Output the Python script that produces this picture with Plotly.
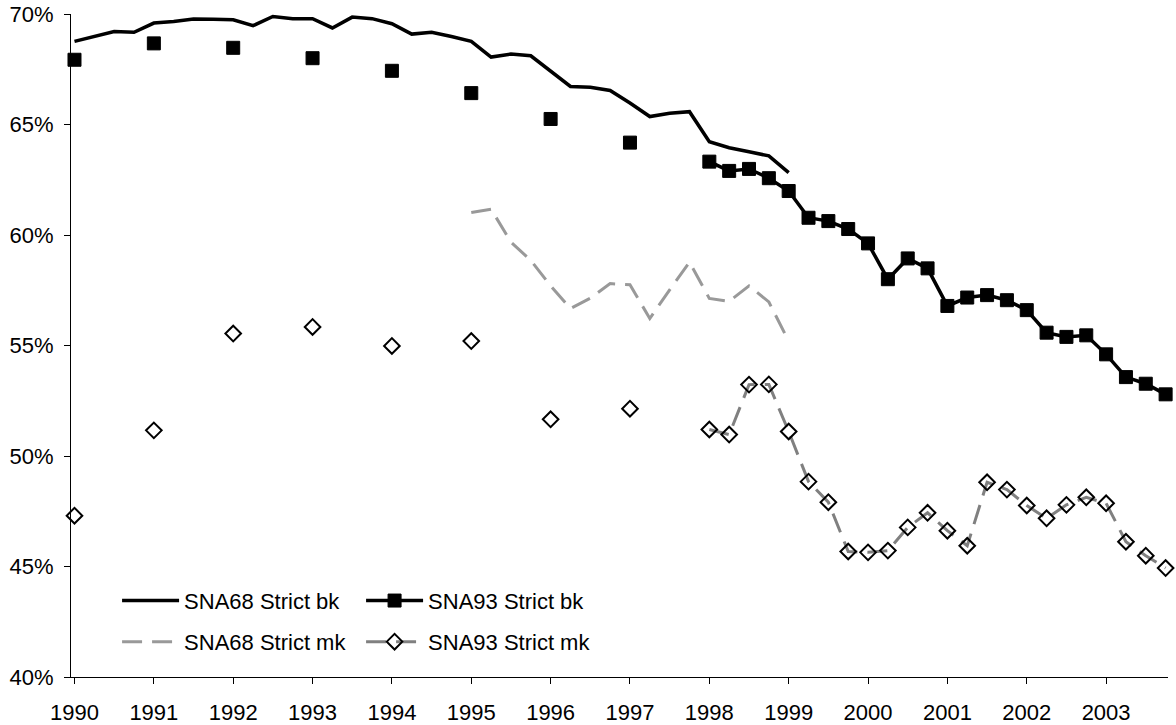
import plotly.graph_objects as go

# Quarterly categories 1990Q1 .. 2003Q4
years = list(range(1990, 2004))
quarter_labels = [f"{y}Q{q}" for y in years for q in (1, 2, 3, 4)]
x_pos = [int(s[:4]) + (int(s[-1]) - 1) / 4 for s in quarter_labels]

N = None
# SNA68 Strict bk: 1990Q1 .. 1999Q1
sna68_bk = [68.76, 69.00, 69.21, 69.17, 69.59, 69.66, 69.77, 69.76,
            69.74, 69.47, 69.89, 69.79, 69.79, 69.37, 69.86, 69.79,
            69.56, 69.09, 69.17, 68.98, 68.76, 68.05, 68.19, 68.11,
            67.40, 66.72, 66.69, 66.54, 65.97, 65.36, 65.51, 65.58,
            64.22, 63.95, 63.77, 63.58, 62.82] + [N] * 19

# SNA93 Strict bk: annual 1990-1997 (Q1), quarterly 1998-2003
sna93_bk_annual = [67.93, 68.67, 68.47, 68.00, 67.43, 66.42, 65.25, 64.18]
sna93_bk_quarterly = [63.32, 62.90, 62.99, 62.57, 61.99, 60.78, 60.63, 60.27,
                      59.62, 58.00, 58.94, 58.49, 56.79, 57.17, 57.28, 57.05,
                      56.60, 55.58, 55.39, 55.46, 54.60, 53.57, 53.27, 52.79]

# SNA68 Strict mk: 1995Q1 .. 1999Q1
sna68_mk_vals = [61.02, 61.17, 59.68, 58.85, 57.70, 56.67, 57.14, 57.80,
                 57.75, 56.22, 57.52, 58.77, 57.13, 57.00, 57.70, 56.97, 55.20]

# SNA93 Strict mk: annual 1990-1997 (Q1), quarterly 1998-2003
sna93_mk_annual = [47.30, 51.16, 55.54, 55.84, 54.98, 55.20, 51.66, 52.14]
sna93_mk_quarterly = [51.20, 50.97, 53.23, 53.24, 51.11, 48.84, 47.91, 45.68,
                      45.64, 45.72, 46.77, 47.43, 46.62, 45.94, 48.81, 48.48,
                      47.76, 47.18, 47.79, 48.13, 47.86, 46.12, 45.49, 44.93]


def annual_then_quarterly(annual, quarterly):
    out = []
    for a in annual:
        out += [a, N, N, N]
    return out + quarterly


sna93_bk = annual_then_quarterly(sna93_bk_annual, sna93_bk_quarterly)
sna93_mk = annual_then_quarterly(sna93_mk_annual, sna93_mk_quarterly)
sna68_mk = [N] * 20 + sna68_mk_vals + [N] * 19

FONT = "Arial, 'Liberation Sans', sans-serif"

fig = go.Figure()
fig.add_trace(go.Scatter(
    x=x_pos, y=sna68_bk, name="SNA68 Strict bk", mode="lines",
    line=dict(color="black", width=3.5), legend="legend", connectgaps=False,
    cliponaxis=False))
fig.add_trace(go.Scatter(
    x=x_pos, y=sna93_bk, name="SNA93 Strict bk", mode="lines+markers",
    line=dict(color="black", width=3.5),
    marker=dict(symbol="square", size=13, color="black", line=dict(color="black", width=1)),
    legend="legend", connectgaps=False, cliponaxis=False))
fig.add_trace(go.Scatter(
    x=x_pos, y=sna68_mk, name="SNA68 Strict mk", mode="lines",
    line=dict(color="#999999", width=3, dash="20px,10px"), legend="legend2",
    connectgaps=False, cliponaxis=False))
fig.add_trace(go.Scatter(
    x=x_pos, y=sna93_mk, name="SNA93 Strict mk", mode="lines+markers",
    line=dict(color="#808080", width=3, dash="20px,10px"),
    marker=dict(symbol="diamond-open", size=12, color="black", line=dict(color="black", width=2)),
    legend="legend2", connectgaps=False, cliponaxis=False))

legend_common = dict(orientation="h", xanchor="left", yanchor="middle",
                     bgcolor="rgba(0,0,0,0)", borderwidth=0,
                     font=dict(family=FONT, size=22, color="black"),
                     itemwidth=57, entrywidth=172, entrywidthmode="pixels",
                     traceorder="normal", tracegroupgap=0)

fig.update_layout(
    width=1176, height=725,
    margin=dict(l=71, r=8, t=14, b=48),
    plot_bgcolor="white", paper_bgcolor="white",
    font=dict(family=FONT, size=22, color="black"),
    legend=dict(x=0.042, y=0.115, **legend_common),
    legend2=dict(x=0.042, y=0.053, **legend_common),
    xaxis=dict(range=[1989.956, 2003.78], tickvals=years, ticktext=[str(y) for y in years],
               ticks="outside", ticklen=6, tickcolor="black", showline=True,
               linecolor="black", linewidth=1, showgrid=False, zeroline=False,
               automargin=False, ticklabelstandoff=10,
               tickfont=dict(family=FONT, size=22, color="black")),
    yaxis=dict(range=[40, 70], dtick=5, ticksuffix="%", ticks="outside", ticklen=6,
               tickcolor="black", showline=True, linecolor="black", linewidth=1,
               showgrid=False, zeroline=False, automargin=False, ticklabelstandoff=6,
               tickfont=dict(family=FONT, size=22, color="black")),
)

fig.write_html("out.html", config={"displayModeBar": False},
               post_script="document.body.style.margin='0';")
